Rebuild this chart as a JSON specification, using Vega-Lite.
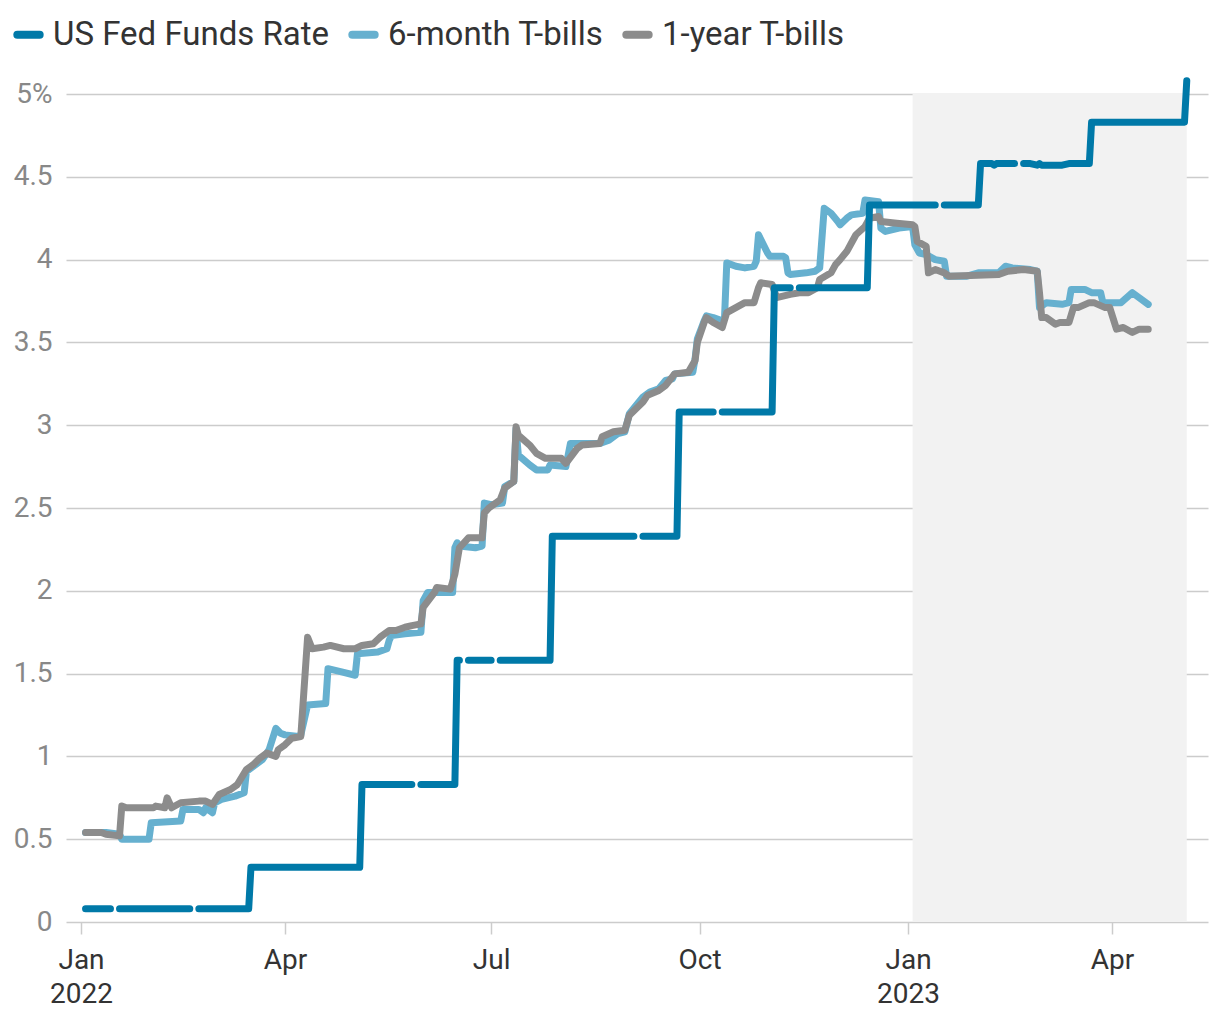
{
  "$schema": "https://vega.github.io/schema/vega-lite/v6.json",
  "width": 1142,
  "height": 828,
  "autosize": {"type": "none"},
  "padding": {"left": 66, "top": 94, "right": 12, "bottom": 98},
  "background": "white",
  "config": {
    "view": {"stroke": null},
    "font": "Roboto",
    "mark": {"invalid": "break-paths-filter-domains"}
  },
  "datasets": {
    "rates": [
      {"date": "2022-01-03", "series": "US Fed Funds Rate", "value": 0.08},
      {"date": "2022-01-14", "series": "US Fed Funds Rate", "value": 0.08},
      {"date": "2022-01-17", "series": "US Fed Funds Rate", "value": null},
      {"date": "2022-01-18", "series": "US Fed Funds Rate", "value": 0.08},
      {"date": "2022-02-18", "series": "US Fed Funds Rate", "value": 0.08},
      {"date": "2022-02-21", "series": "US Fed Funds Rate", "value": null},
      {"date": "2022-02-22", "series": "US Fed Funds Rate", "value": 0.08},
      {"date": "2022-03-16", "series": "US Fed Funds Rate", "value": 0.08},
      {"date": "2022-03-17", "series": "US Fed Funds Rate", "value": 0.33},
      {"date": "2022-05-04", "series": "US Fed Funds Rate", "value": 0.33},
      {"date": "2022-05-05", "series": "US Fed Funds Rate", "value": 0.83},
      {"date": "2022-05-27", "series": "US Fed Funds Rate", "value": 0.83},
      {"date": "2022-05-30", "series": "US Fed Funds Rate", "value": null},
      {"date": "2022-05-31", "series": "US Fed Funds Rate", "value": 0.83},
      {"date": "2022-06-15", "series": "US Fed Funds Rate", "value": 0.83},
      {"date": "2022-06-16", "series": "US Fed Funds Rate", "value": 1.58},
      {"date": "2022-06-17", "series": "US Fed Funds Rate", "value": 1.58},
      {"date": "2022-06-20", "series": "US Fed Funds Rate", "value": null},
      {"date": "2022-06-21", "series": "US Fed Funds Rate", "value": 1.58},
      {"date": "2022-07-01", "series": "US Fed Funds Rate", "value": 1.58},
      {"date": "2022-07-04", "series": "US Fed Funds Rate", "value": null},
      {"date": "2022-07-05", "series": "US Fed Funds Rate", "value": 1.58},
      {"date": "2022-07-27", "series": "US Fed Funds Rate", "value": 1.58},
      {"date": "2022-07-28", "series": "US Fed Funds Rate", "value": 2.33},
      {"date": "2022-09-02", "series": "US Fed Funds Rate", "value": 2.33},
      {"date": "2022-09-05", "series": "US Fed Funds Rate", "value": null},
      {"date": "2022-09-06", "series": "US Fed Funds Rate", "value": 2.33},
      {"date": "2022-09-21", "series": "US Fed Funds Rate", "value": 2.33},
      {"date": "2022-09-22", "series": "US Fed Funds Rate", "value": 3.08},
      {"date": "2022-10-07", "series": "US Fed Funds Rate", "value": 3.08},
      {"date": "2022-10-10", "series": "US Fed Funds Rate", "value": null},
      {"date": "2022-10-11", "series": "US Fed Funds Rate", "value": 3.08},
      {"date": "2022-11-02", "series": "US Fed Funds Rate", "value": 3.08},
      {"date": "2022-11-03", "series": "US Fed Funds Rate", "value": 3.83},
      {"date": "2022-11-10", "series": "US Fed Funds Rate", "value": 3.83},
      {"date": "2022-11-11", "series": "US Fed Funds Rate", "value": null},
      {"date": "2022-11-14", "series": "US Fed Funds Rate", "value": 3.83},
      {"date": "2022-12-14", "series": "US Fed Funds Rate", "value": 3.83},
      {"date": "2022-12-15", "series": "US Fed Funds Rate", "value": 4.33},
      {"date": "2023-01-13", "series": "US Fed Funds Rate", "value": 4.33},
      {"date": "2023-01-16", "series": "US Fed Funds Rate", "value": null},
      {"date": "2023-01-17", "series": "US Fed Funds Rate", "value": 4.33},
      {"date": "2023-02-01", "series": "US Fed Funds Rate", "value": 4.33},
      {"date": "2023-02-02", "series": "US Fed Funds Rate", "value": 4.58},
      {"date": "2023-02-07", "series": "US Fed Funds Rate", "value": 4.58},
      {"date": "2023-02-08", "series": "US Fed Funds Rate", "value": 4.57},
      {"date": "2023-02-09", "series": "US Fed Funds Rate", "value": 4.58},
      {"date": "2023-02-17", "series": "US Fed Funds Rate", "value": 4.58},
      {"date": "2023-02-20", "series": "US Fed Funds Rate", "value": null},
      {"date": "2023-02-21", "series": "US Fed Funds Rate", "value": 4.58},
      {"date": "2023-02-24", "series": "US Fed Funds Rate", "value": 4.58},
      {"date": "2023-02-27", "series": "US Fed Funds Rate", "value": 4.57},
      {"date": "2023-02-28", "series": "US Fed Funds Rate", "value": 4.58},
      {"date": "2023-03-01", "series": "US Fed Funds Rate", "value": 4.57},
      {"date": "2023-03-10", "series": "US Fed Funds Rate", "value": 4.57},
      {"date": "2023-03-13", "series": "US Fed Funds Rate", "value": 4.58},
      {"date": "2023-03-22", "series": "US Fed Funds Rate", "value": 4.58},
      {"date": "2023-03-23", "series": "US Fed Funds Rate", "value": 4.83},
      {"date": "2023-05-03", "series": "US Fed Funds Rate", "value": 4.83},
      {"date": "2023-05-04", "series": "US Fed Funds Rate", "value": 5.08},

      {"date": "2022-01-03", "series": "6-month T-bills", "value": 0.54},
      {"date": "2022-01-12", "series": "6-month T-bills", "value": 0.54},
      {"date": "2022-01-18", "series": "6-month T-bills", "value": 0.53},
      {"date": "2022-01-19", "series": "6-month T-bills", "value": 0.50},
      {"date": "2022-01-31", "series": "6-month T-bills", "value": 0.50},
      {"date": "2022-02-01", "series": "6-month T-bills", "value": 0.60},
      {"date": "2022-02-14", "series": "6-month T-bills", "value": 0.61},
      {"date": "2022-02-15", "series": "6-month T-bills", "value": 0.68},
      {"date": "2022-02-22", "series": "6-month T-bills", "value": 0.68},
      {"date": "2022-02-24", "series": "6-month T-bills", "value": 0.66},
      {"date": "2022-02-25", "series": "6-month T-bills", "value": 0.69},
      {"date": "2022-02-28", "series": "6-month T-bills", "value": 0.66},
      {"date": "2022-03-01", "series": "6-month T-bills", "value": 0.72},
      {"date": "2022-03-04", "series": "6-month T-bills", "value": 0.74},
      {"date": "2022-03-10", "series": "6-month T-bills", "value": 0.76},
      {"date": "2022-03-14", "series": "6-month T-bills", "value": 0.78},
      {"date": "2022-03-15", "series": "6-month T-bills", "value": 0.91},
      {"date": "2022-03-18", "series": "6-month T-bills", "value": 0.94},
      {"date": "2022-03-22", "series": "6-month T-bills", "value": 0.98},
      {"date": "2022-03-25", "series": "6-month T-bills", "value": 1.04},
      {"date": "2022-03-28", "series": "6-month T-bills", "value": 1.17},
      {"date": "2022-03-30", "series": "6-month T-bills", "value": 1.14},
      {"date": "2022-04-01", "series": "6-month T-bills", "value": 1.13},
      {"date": "2022-04-07", "series": "6-month T-bills", "value": 1.12},
      {"date": "2022-04-08", "series": "6-month T-bills", "value": 1.13},
      {"date": "2022-04-11", "series": "6-month T-bills", "value": 1.31},
      {"date": "2022-04-19", "series": "6-month T-bills", "value": 1.32},
      {"date": "2022-04-20", "series": "6-month T-bills", "value": 1.53},
      {"date": "2022-04-26", "series": "6-month T-bills", "value": 1.51},
      {"date": "2022-05-02", "series": "6-month T-bills", "value": 1.49},
      {"date": "2022-05-03", "series": "6-month T-bills", "value": 1.62},
      {"date": "2022-05-12", "series": "6-month T-bills", "value": 1.63},
      {"date": "2022-05-16", "series": "6-month T-bills", "value": 1.65},
      {"date": "2022-05-17", "series": "6-month T-bills", "value": 1.70},
      {"date": "2022-05-18", "series": "6-month T-bills", "value": 1.73},
      {"date": "2022-05-24", "series": "6-month T-bills", "value": 1.74},
      {"date": "2022-05-31", "series": "6-month T-bills", "value": 1.75},
      {"date": "2022-06-01", "series": "6-month T-bills", "value": 1.94},
      {"date": "2022-06-03", "series": "6-month T-bills", "value": 1.99},
      {"date": "2022-06-14", "series": "6-month T-bills", "value": 1.99},
      {"date": "2022-06-15", "series": "6-month T-bills", "value": 2.26},
      {"date": "2022-06-16", "series": "6-month T-bills", "value": 2.29},
      {"date": "2022-06-17", "series": "6-month T-bills", "value": 2.27},
      {"date": "2022-06-24", "series": "6-month T-bills", "value": 2.26},
      {"date": "2022-06-27", "series": "6-month T-bills", "value": 2.27},
      {"date": "2022-06-28", "series": "6-month T-bills", "value": 2.53},
      {"date": "2022-07-01", "series": "6-month T-bills", "value": 2.52},
      {"date": "2022-07-06", "series": "6-month T-bills", "value": 2.53},
      {"date": "2022-07-07", "series": "6-month T-bills", "value": 2.63},
      {"date": "2022-07-11", "series": "6-month T-bills", "value": 2.66},
      {"date": "2022-07-12", "series": "6-month T-bills", "value": 2.98},
      {"date": "2022-07-13", "series": "6-month T-bills", "value": 2.82},
      {"date": "2022-07-18", "series": "6-month T-bills", "value": 2.76},
      {"date": "2022-07-21", "series": "6-month T-bills", "value": 2.73},
      {"date": "2022-07-26", "series": "6-month T-bills", "value": 2.73},
      {"date": "2022-07-27", "series": "6-month T-bills", "value": 2.76},
      {"date": "2022-08-03", "series": "6-month T-bills", "value": 2.75},
      {"date": "2022-08-05", "series": "6-month T-bills", "value": 2.89},
      {"date": "2022-08-18", "series": "6-month T-bills", "value": 2.89},
      {"date": "2022-08-22", "series": "6-month T-bills", "value": 2.91},
      {"date": "2022-08-26", "series": "6-month T-bills", "value": 2.95},
      {"date": "2022-08-29", "series": "6-month T-bills", "value": 2.96},
      {"date": "2022-08-31", "series": "6-month T-bills", "value": 3.07},
      {"date": "2022-09-06", "series": "6-month T-bills", "value": 3.17},
      {"date": "2022-09-09", "series": "6-month T-bills", "value": 3.20},
      {"date": "2022-09-13", "series": "6-month T-bills", "value": 3.22},
      {"date": "2022-09-16", "series": "6-month T-bills", "value": 3.27},
      {"date": "2022-09-19", "series": "6-month T-bills", "value": 3.28},
      {"date": "2022-09-20", "series": "6-month T-bills", "value": 3.31},
      {"date": "2022-09-28", "series": "6-month T-bills", "value": 3.32},
      {"date": "2022-09-29", "series": "6-month T-bills", "value": 3.40},
      {"date": "2022-09-30", "series": "6-month T-bills", "value": 3.52},
      {"date": "2022-10-03", "series": "6-month T-bills", "value": 3.63},
      {"date": "2022-10-04", "series": "6-month T-bills", "value": 3.66},
      {"date": "2022-10-07", "series": "6-month T-bills", "value": 3.65},
      {"date": "2022-10-11", "series": "6-month T-bills", "value": 3.63},
      {"date": "2022-10-12", "series": "6-month T-bills", "value": 3.65},
      {"date": "2022-10-13", "series": "6-month T-bills", "value": 3.98},
      {"date": "2022-10-17", "series": "6-month T-bills", "value": 3.96},
      {"date": "2022-10-21", "series": "6-month T-bills", "value": 3.95},
      {"date": "2022-10-25", "series": "6-month T-bills", "value": 3.96},
      {"date": "2022-10-26", "series": "6-month T-bills", "value": 3.99},
      {"date": "2022-10-27", "series": "6-month T-bills", "value": 4.15},
      {"date": "2022-10-31", "series": "6-month T-bills", "value": 4.04},
      {"date": "2022-11-01", "series": "6-month T-bills", "value": 4.02},
      {"date": "2022-11-07", "series": "6-month T-bills", "value": 4.02},
      {"date": "2022-11-08", "series": "6-month T-bills", "value": 4.01},
      {"date": "2022-11-09", "series": "6-month T-bills", "value": 3.92},
      {"date": "2022-11-10", "series": "6-month T-bills", "value": 3.91},
      {"date": "2022-11-17", "series": "6-month T-bills", "value": 3.92},
      {"date": "2022-11-21", "series": "6-month T-bills", "value": 3.93},
      {"date": "2022-11-23", "series": "6-month T-bills", "value": 3.95},
      {"date": "2022-11-25", "series": "6-month T-bills", "value": 4.31},
      {"date": "2022-11-28", "series": "6-month T-bills", "value": 4.28},
      {"date": "2022-12-01", "series": "6-month T-bills", "value": 4.23},
      {"date": "2022-12-02", "series": "6-month T-bills", "value": 4.21},
      {"date": "2022-12-05", "series": "6-month T-bills", "value": 4.25},
      {"date": "2022-12-07", "series": "6-month T-bills", "value": 4.27},
      {"date": "2022-12-12", "series": "6-month T-bills", "value": 4.28},
      {"date": "2022-12-13", "series": "6-month T-bills", "value": 4.36},
      {"date": "2022-12-19", "series": "6-month T-bills", "value": 4.35},
      {"date": "2022-12-20", "series": "6-month T-bills", "value": 4.19},
      {"date": "2022-12-22", "series": "6-month T-bills", "value": 4.17},
      {"date": "2022-12-28", "series": "6-month T-bills", "value": 4.19},
      {"date": "2023-01-03", "series": "6-month T-bills", "value": 4.20},
      {"date": "2023-01-04", "series": "6-month T-bills", "value": 4.09},
      {"date": "2023-01-06", "series": "6-month T-bills", "value": 4.04},
      {"date": "2023-01-09", "series": "6-month T-bills", "value": 4.03},
      {"date": "2023-01-13", "series": "6-month T-bills", "value": 4.00},
      {"date": "2023-01-17", "series": "6-month T-bills", "value": 3.99},
      {"date": "2023-01-18", "series": "6-month T-bills", "value": 3.90},
      {"date": "2023-01-27", "series": "6-month T-bills", "value": 3.90},
      {"date": "2023-02-01", "series": "6-month T-bills", "value": 3.92},
      {"date": "2023-02-10", "series": "6-month T-bills", "value": 3.92},
      {"date": "2023-02-13", "series": "6-month T-bills", "value": 3.96},
      {"date": "2023-02-16", "series": "6-month T-bills", "value": 3.95},
      {"date": "2023-02-24", "series": "6-month T-bills", "value": 3.94},
      {"date": "2023-02-27", "series": "6-month T-bills", "value": 3.93},
      {"date": "2023-02-28", "series": "6-month T-bills", "value": 3.71},
      {"date": "2023-03-03", "series": "6-month T-bills", "value": 3.74},
      {"date": "2023-03-10", "series": "6-month T-bills", "value": 3.73},
      {"date": "2023-03-13", "series": "6-month T-bills", "value": 3.74},
      {"date": "2023-03-14", "series": "6-month T-bills", "value": 3.82},
      {"date": "2023-03-20", "series": "6-month T-bills", "value": 3.82},
      {"date": "2023-03-23", "series": "6-month T-bills", "value": 3.80},
      {"date": "2023-03-27", "series": "6-month T-bills", "value": 3.80},
      {"date": "2023-03-28", "series": "6-month T-bills", "value": 3.74},
      {"date": "2023-04-05", "series": "6-month T-bills", "value": 3.74},
      {"date": "2023-04-10", "series": "6-month T-bills", "value": 3.80},
      {"date": "2023-04-17", "series": "6-month T-bills", "value": 3.73},

      {"date": "2022-01-03", "series": "1-year T-bills", "value": 0.54},
      {"date": "2022-01-10", "series": "1-year T-bills", "value": 0.54},
      {"date": "2022-01-12", "series": "1-year T-bills", "value": 0.53},
      {"date": "2022-01-18", "series": "1-year T-bills", "value": 0.52},
      {"date": "2022-01-19", "series": "1-year T-bills", "value": 0.70},
      {"date": "2022-01-21", "series": "1-year T-bills", "value": 0.69},
      {"date": "2022-02-02", "series": "1-year T-bills", "value": 0.69},
      {"date": "2022-02-03", "series": "1-year T-bills", "value": 0.70},
      {"date": "2022-02-07", "series": "1-year T-bills", "value": 0.69},
      {"date": "2022-02-08", "series": "1-year T-bills", "value": 0.75},
      {"date": "2022-02-10", "series": "1-year T-bills", "value": 0.69},
      {"date": "2022-02-14", "series": "1-year T-bills", "value": 0.72},
      {"date": "2022-02-22", "series": "1-year T-bills", "value": 0.73},
      {"date": "2022-02-25", "series": "1-year T-bills", "value": 0.73},
      {"date": "2022-02-28", "series": "1-year T-bills", "value": 0.71},
      {"date": "2022-03-03", "series": "1-year T-bills", "value": 0.77},
      {"date": "2022-03-08", "series": "1-year T-bills", "value": 0.80},
      {"date": "2022-03-11", "series": "1-year T-bills", "value": 0.83},
      {"date": "2022-03-15", "series": "1-year T-bills", "value": 0.92},
      {"date": "2022-03-18", "series": "1-year T-bills", "value": 0.95},
      {"date": "2022-03-21", "series": "1-year T-bills", "value": 0.99},
      {"date": "2022-03-24", "series": "1-year T-bills", "value": 1.02},
      {"date": "2022-03-28", "series": "1-year T-bills", "value": 1.00},
      {"date": "2022-03-29", "series": "1-year T-bills", "value": 1.04},
      {"date": "2022-04-01", "series": "1-year T-bills", "value": 1.07},
      {"date": "2022-04-04", "series": "1-year T-bills", "value": 1.11},
      {"date": "2022-04-08", "series": "1-year T-bills", "value": 1.12},
      {"date": "2022-04-11", "series": "1-year T-bills", "value": 1.72},
      {"date": "2022-04-13", "series": "1-year T-bills", "value": 1.65},
      {"date": "2022-04-18", "series": "1-year T-bills", "value": 1.66},
      {"date": "2022-04-21", "series": "1-year T-bills", "value": 1.67},
      {"date": "2022-04-27", "series": "1-year T-bills", "value": 1.65},
      {"date": "2022-05-02", "series": "1-year T-bills", "value": 1.65},
      {"date": "2022-05-05", "series": "1-year T-bills", "value": 1.67},
      {"date": "2022-05-10", "series": "1-year T-bills", "value": 1.68},
      {"date": "2022-05-13", "series": "1-year T-bills", "value": 1.72},
      {"date": "2022-05-17", "series": "1-year T-bills", "value": 1.76},
      {"date": "2022-05-20", "series": "1-year T-bills", "value": 1.76},
      {"date": "2022-05-24", "series": "1-year T-bills", "value": 1.78},
      {"date": "2022-05-27", "series": "1-year T-bills", "value": 1.79},
      {"date": "2022-05-31", "series": "1-year T-bills", "value": 1.80},
      {"date": "2022-06-01", "series": "1-year T-bills", "value": 1.90},
      {"date": "2022-06-06", "series": "1-year T-bills", "value": 1.99},
      {"date": "2022-06-07", "series": "1-year T-bills", "value": 2.02},
      {"date": "2022-06-13", "series": "1-year T-bills", "value": 2.01},
      {"date": "2022-06-15", "series": "1-year T-bills", "value": 2.10},
      {"date": "2022-06-17", "series": "1-year T-bills", "value": 2.26},
      {"date": "2022-06-21", "series": "1-year T-bills", "value": 2.32},
      {"date": "2022-06-27", "series": "1-year T-bills", "value": 2.32},
      {"date": "2022-06-28", "series": "1-year T-bills", "value": 2.47},
      {"date": "2022-06-30", "series": "1-year T-bills", "value": 2.50},
      {"date": "2022-07-05", "series": "1-year T-bills", "value": 2.55},
      {"date": "2022-07-07", "series": "1-year T-bills", "value": 2.62},
      {"date": "2022-07-11", "series": "1-year T-bills", "value": 2.66},
      {"date": "2022-07-12", "series": "1-year T-bills", "value": 2.99},
      {"date": "2022-07-13", "series": "1-year T-bills", "value": 2.94},
      {"date": "2022-07-18", "series": "1-year T-bills", "value": 2.88},
      {"date": "2022-07-21", "series": "1-year T-bills", "value": 2.83},
      {"date": "2022-07-25", "series": "1-year T-bills", "value": 2.80},
      {"date": "2022-08-01", "series": "1-year T-bills", "value": 2.80},
      {"date": "2022-08-03", "series": "1-year T-bills", "value": 2.77},
      {"date": "2022-08-08", "series": "1-year T-bills", "value": 2.86},
      {"date": "2022-08-10", "series": "1-year T-bills", "value": 2.88},
      {"date": "2022-08-18", "series": "1-year T-bills", "value": 2.89},
      {"date": "2022-08-19", "series": "1-year T-bills", "value": 2.93},
      {"date": "2022-08-24", "series": "1-year T-bills", "value": 2.96},
      {"date": "2022-08-29", "series": "1-year T-bills", "value": 2.97},
      {"date": "2022-08-31", "series": "1-year T-bills", "value": 3.06},
      {"date": "2022-09-06", "series": "1-year T-bills", "value": 3.14},
      {"date": "2022-09-08", "series": "1-year T-bills", "value": 3.18},
      {"date": "2022-09-13", "series": "1-year T-bills", "value": 3.21},
      {"date": "2022-09-16", "series": "1-year T-bills", "value": 3.24},
      {"date": "2022-09-20", "series": "1-year T-bills", "value": 3.31},
      {"date": "2022-09-26", "series": "1-year T-bills", "value": 3.32},
      {"date": "2022-09-29", "series": "1-year T-bills", "value": 3.39},
      {"date": "2022-09-30", "series": "1-year T-bills", "value": 3.50},
      {"date": "2022-10-03", "series": "1-year T-bills", "value": 3.62},
      {"date": "2022-10-04", "series": "1-year T-bills", "value": 3.65},
      {"date": "2022-10-07", "series": "1-year T-bills", "value": 3.62},
      {"date": "2022-10-11", "series": "1-year T-bills", "value": 3.59},
      {"date": "2022-10-13", "series": "1-year T-bills", "value": 3.68},
      {"date": "2022-10-17", "series": "1-year T-bills", "value": 3.71},
      {"date": "2022-10-21", "series": "1-year T-bills", "value": 3.74},
      {"date": "2022-10-25", "series": "1-year T-bills", "value": 3.74},
      {"date": "2022-10-27", "series": "1-year T-bills", "value": 3.83},
      {"date": "2022-10-28", "series": "1-year T-bills", "value": 3.86},
      {"date": "2022-11-02", "series": "1-year T-bills", "value": 3.85},
      {"date": "2022-11-04", "series": "1-year T-bills", "value": 3.77},
      {"date": "2022-11-10", "series": "1-year T-bills", "value": 3.79},
      {"date": "2022-11-14", "series": "1-year T-bills", "value": 3.80},
      {"date": "2022-11-18", "series": "1-year T-bills", "value": 3.80},
      {"date": "2022-11-22", "series": "1-year T-bills", "value": 3.83},
      {"date": "2022-11-23", "series": "1-year T-bills", "value": 3.88},
      {"date": "2022-11-28", "series": "1-year T-bills", "value": 3.92},
      {"date": "2022-11-30", "series": "1-year T-bills", "value": 3.97},
      {"date": "2022-12-02", "series": "1-year T-bills", "value": 4.00},
      {"date": "2022-12-05", "series": "1-year T-bills", "value": 4.05},
      {"date": "2022-12-07", "series": "1-year T-bills", "value": 4.10},
      {"date": "2022-12-09", "series": "1-year T-bills", "value": 4.15},
      {"date": "2022-12-13", "series": "1-year T-bills", "value": 4.20},
      {"date": "2022-12-15", "series": "1-year T-bills", "value": 4.25},
      {"date": "2022-12-19", "series": "1-year T-bills", "value": 4.26},
      {"date": "2022-12-20", "series": "1-year T-bills", "value": 4.23},
      {"date": "2022-12-27", "series": "1-year T-bills", "value": 4.22},
      {"date": "2023-01-03", "series": "1-year T-bills", "value": 4.21},
      {"date": "2023-01-04", "series": "1-year T-bills", "value": 4.20},
      {"date": "2023-01-05", "series": "1-year T-bills", "value": 4.11},
      {"date": "2023-01-09", "series": "1-year T-bills", "value": 4.08},
      {"date": "2023-01-10", "series": "1-year T-bills", "value": 3.92},
      {"date": "2023-01-13", "series": "1-year T-bills", "value": 3.94},
      {"date": "2023-01-17", "series": "1-year T-bills", "value": 3.92},
      {"date": "2023-01-19", "series": "1-year T-bills", "value": 3.90},
      {"date": "2023-02-10", "series": "1-year T-bills", "value": 3.91},
      {"date": "2023-02-14", "series": "1-year T-bills", "value": 3.93},
      {"date": "2023-02-21", "series": "1-year T-bills", "value": 3.94},
      {"date": "2023-02-27", "series": "1-year T-bills", "value": 3.93},
      {"date": "2023-02-28", "series": "1-year T-bills", "value": 3.80},
      {"date": "2023-03-01", "series": "1-year T-bills", "value": 3.65},
      {"date": "2023-03-03", "series": "1-year T-bills", "value": 3.65},
      {"date": "2023-03-07", "series": "1-year T-bills", "value": 3.61},
      {"date": "2023-03-09", "series": "1-year T-bills", "value": 3.62},
      {"date": "2023-03-13", "series": "1-year T-bills", "value": 3.62},
      {"date": "2023-03-15", "series": "1-year T-bills", "value": 3.71},
      {"date": "2023-03-17", "series": "1-year T-bills", "value": 3.71},
      {"date": "2023-03-22", "series": "1-year T-bills", "value": 3.74},
      {"date": "2023-03-24", "series": "1-year T-bills", "value": 3.74},
      {"date": "2023-03-29", "series": "1-year T-bills", "value": 3.71},
      {"date": "2023-03-31", "series": "1-year T-bills", "value": 3.71},
      {"date": "2023-04-03", "series": "1-year T-bills", "value": 3.58},
      {"date": "2023-04-06", "series": "1-year T-bills", "value": 3.59},
      {"date": "2023-04-10", "series": "1-year T-bills", "value": 3.56},
      {"date": "2023-04-13", "series": "1-year T-bills", "value": 3.58},
      {"date": "2023-04-17", "series": "1-year T-bills", "value": 3.58}
    ],
    "shade": [
      {"start": "2023-01-03", "end": "2023-05-04"}
    ]
  },
  "layer": [
    {
      "data": {"name": "shade"},
      "mark": {"type": "rect", "color": "#f2f2f2"},
      "encoding": {
        "x": {
          "field": "start", "type": "temporal",
          "scale": {
            "type": "utc",
            "domain": [
              {"year": 2021, "month": 12, "date": 25, "hours": 9, "utc": true},
              {"year": 2023, "month": 5, "date": 13, "hours": 9, "utc": true}
            ]
          },
          "axis": {
            "title": null,
            "grid": false,
            "domain": false,
            "values": [
              {"year": 2022, "month": 1, "date": 1, "utc": true},
              {"year": 2022, "month": 4, "date": 1, "utc": true},
              {"year": 2022, "month": 7, "date": 1, "utc": true},
              {"year": 2022, "month": 10, "date": 1, "utc": true},
              {"year": 2023, "month": 1, "date": 1, "utc": true},
              {"year": 2023, "month": 4, "date": 1, "utc": true}
            ],
            "labelExpr": "utcmonth(datum.value) == 0 ? [utcFormat(datum.value, '%b'), utcFormat(datum.value, '%Y')] : utcFormat(datum.value, '%b')",
            "labelFontSize": 28,
            "labelColor": "#333333",
            "labelLineHeight": 34,
            "labelPadding": 12,
            "tickColor": "#cccccc",
            "tickWidth": 1.5,
            "tickSize": 12,
            "labelFlush": false,
            "labelOverlap": false
          }
        },
        "x2": {"field": "end"}
      }
    },
    {
      "data": {"name": "rates"},
      "transform": [{"filter": "datum.series == '6-month T-bills'"}],
      "mark": {"type": "line", "strokeWidth": 7, "strokeCap": "round", "strokeJoin": "round"},
      "encoding": {
        "x": {"field": "date", "type": "temporal"},
        "y": {
          "field": "value", "type": "quantitative",
          "scale": {"domain": [0, 5], "nice": false, "zero": true},
          "axis": {
            "title": null,
            "values": [0, 0.5, 1, 1.5, 2, 2.5, 3, 3.5, 4, 4.5, 5],
            "labelExpr": "datum.value == 5 ? '5%' : format(datum.value, '~g')",
            "domain": false,
            "ticks": false,
            "grid": true,
            "gridColor": "#cccccc",
            "gridWidth": 1.5,
            "labelColor": "#888888",
            "labelFontSize": 28,
            "labelPadding": 14
          }
        },
        "color": {
          "field": "series", "type": "nominal",
          "scale": {
            "domain": ["US Fed Funds Rate", "6-month T-bills", "1-year T-bills"],
            "range": ["#0079a8", "#66b0cf", "#8c8c8c"]
          },
          "legend": {
            "title": null,
            "orient": "none",
            "direction": "horizontal",
            "legendX": -54,
            "legendY": -76,
            "symbolType": "stroke",
            "symbolSize": 500,
            "symbolStrokeWidth": 8,
            "labelFontSize": 33,
            "labelColor": "#333333",
            "labelOffset": 8,
            "labelLimit": 0,
            "columnPadding": 6,
            "encode": {"symbols": {"update": {"strokeCap": {"value": "round"}}}}
          }
        }
      }
    },
    {
      "data": {"name": "rates"},
      "transform": [{"filter": "datum.series == '1-year T-bills'"}],
      "mark": {"type": "line", "strokeWidth": 7, "strokeCap": "round", "strokeJoin": "round"},
      "encoding": {
        "x": {"field": "date", "type": "temporal"},
        "y": {"field": "value", "type": "quantitative"},
        "color": {"field": "series", "type": "nominal"}
      }
    },
    {
      "data": {"name": "rates"},
      "transform": [{"filter": "datum.series == 'US Fed Funds Rate'"}],
      "mark": {"type": "line", "strokeWidth": 7, "strokeCap": "round", "strokeJoin": "round", "clip": false},
      "encoding": {
        "x": {"field": "date", "type": "temporal"},
        "y": {"field": "value", "type": "quantitative"},
        "color": {"field": "series", "type": "nominal"}
      }
    }
  ]
}
